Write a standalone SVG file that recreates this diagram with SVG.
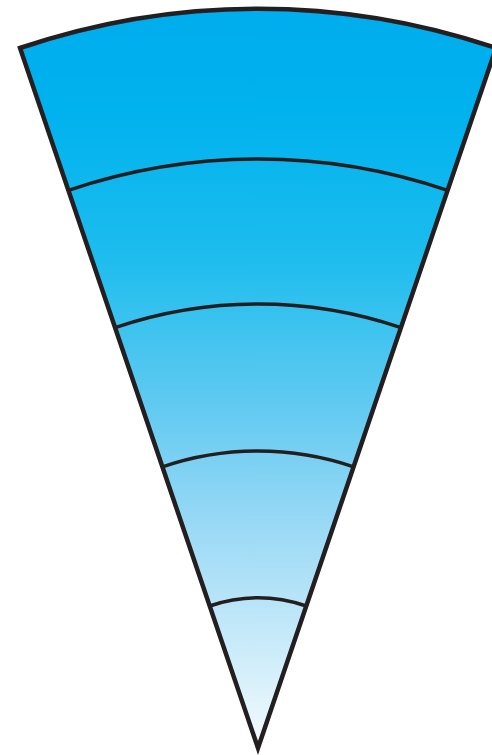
<svg xmlns="http://www.w3.org/2000/svg" width="492" height="755" viewBox="0 0 492 755">
  <defs>
    <linearGradient id="g" gradientUnits="userSpaceOnUse" x1="0" y1="8" x2="0" y2="748">
      <stop offset="0" stop-color="#00ADEE"/>
      <stop offset="0.14" stop-color="#00B2EE"/>
      <stop offset="0.34" stop-color="#1EBDEE"/>
      <stop offset="0.54" stop-color="#62CAF1"/>
      <stop offset="0.70" stop-color="#9AD9F5"/>
      <stop offset="0.88" stop-color="#CFEDFA"/>
      <stop offset="1" stop-color="#F4FBFE"/>
    </linearGradient>
    <style>
      .band { fill: url(#g); stroke: none; }
      .line { fill: none; stroke: #231F20; stroke-width: 3.5; }
      .outline { fill: none; stroke: #231F20; stroke-width: 4.5; stroke-linejoin: miter; stroke-miterlimit: 10; }
    </style>
  </defs>
  <g id="band1"><path class="band" d="M20,48 A739.4,739.4 0 0 1 496,48 L447.6,190.4 A589,589 0 0 0 68.4,190.4 Z"/></g>
  <g id="band2"><path class="band" d="M68.4,190.4 A589,589 0 0 1 447.6,190.4 L400.9,327.7 A444,444 0 0 0 115.1,327.7 Z"/></g>
  <g id="band3"><path class="band" d="M115.1,327.7 A444,444 0 0 1 400.9,327.7 L353.6,466.8 A297,297 0 0 0 162.4,466.8 Z"/></g>
  <g id="band4"><path class="band" d="M162.4,466.8 A297,297 0 0 1 353.6,466.8 L306.3,606 A150,150 0 0 0 209.7,606 Z"/></g>
  <g id="band5"><path class="band" d="M209.7,606 A150,150 0 0 1 306.3,606 L258,748 Z"/></g>
  <g id="lines">
    <path class="line" d="M68.4,190.4 A589,589 0 0 1 447.6,190.4"/>
    <path class="line" d="M115.1,327.7 A444,444 0 0 1 400.9,327.7"/>
    <path class="line" d="M162.4,466.8 A297,297 0 0 1 353.6,466.8"/>
    <path class="line" d="M209.7,606 A150,150 0 0 1 306.3,606"/>
    <path class="outline" d="M258,748 L20,48 A739.4,739.4 0 0 1 496,48 Z"/>
  </g>
</svg>
